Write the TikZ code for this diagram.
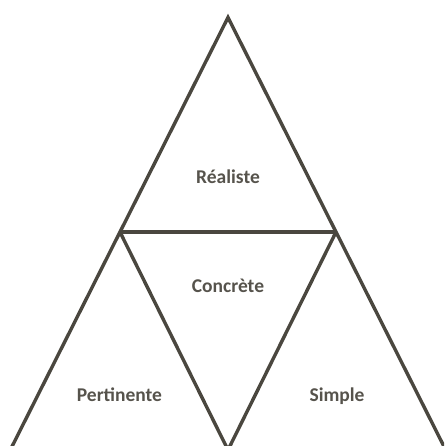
\documentclass[tikz,border=0pt]{standalone}
\usepackage{fontspec}
\setmainfont{Carlito}
\begin{document}
\begin{tikzpicture}[x=1pt,y=1pt,
  edge/.style={draw=edgecol,line width=3.4pt,line join=miter},
  lbl/.style={text=txtcol,font=\fontsize{19.5}{22}\selectfont\bfseries,anchor=base,inner sep=0pt}]
\definecolor{edgecol}{HTML}{4A473F}
\definecolor{txtcol}{HTML}{56534C}
\useasboundingbox (0,0) rectangle (444,446);
\clip (0,0) rectangle (444,446);
\coordinate (A) at (228,428.5);
\coordinate (L) at (120,214);
\coordinate (R) at (336,214);
\coordinate (BL) at (10,-4.5);
\coordinate (BM) at (228,-4);
\coordinate (BR) at (446,-4.5);
\draw[edge] (BL) -- (L) -- (A) -- (R) -- (BR);
\draw[edge] (L) -- (R);
\draw[edge] (L) -- (BM) -- (R);
\node[lbl] (realiste) at (228,262) {Réaliste};
\node[lbl] (concrete) at (228,153.5) {Concrète};
\node[lbl] (pertinente) at (119.5,44.5) {Pertinente};
\node[lbl] (simple) at (337,44.5) {Simple};
\end{tikzpicture}
\end{document}
